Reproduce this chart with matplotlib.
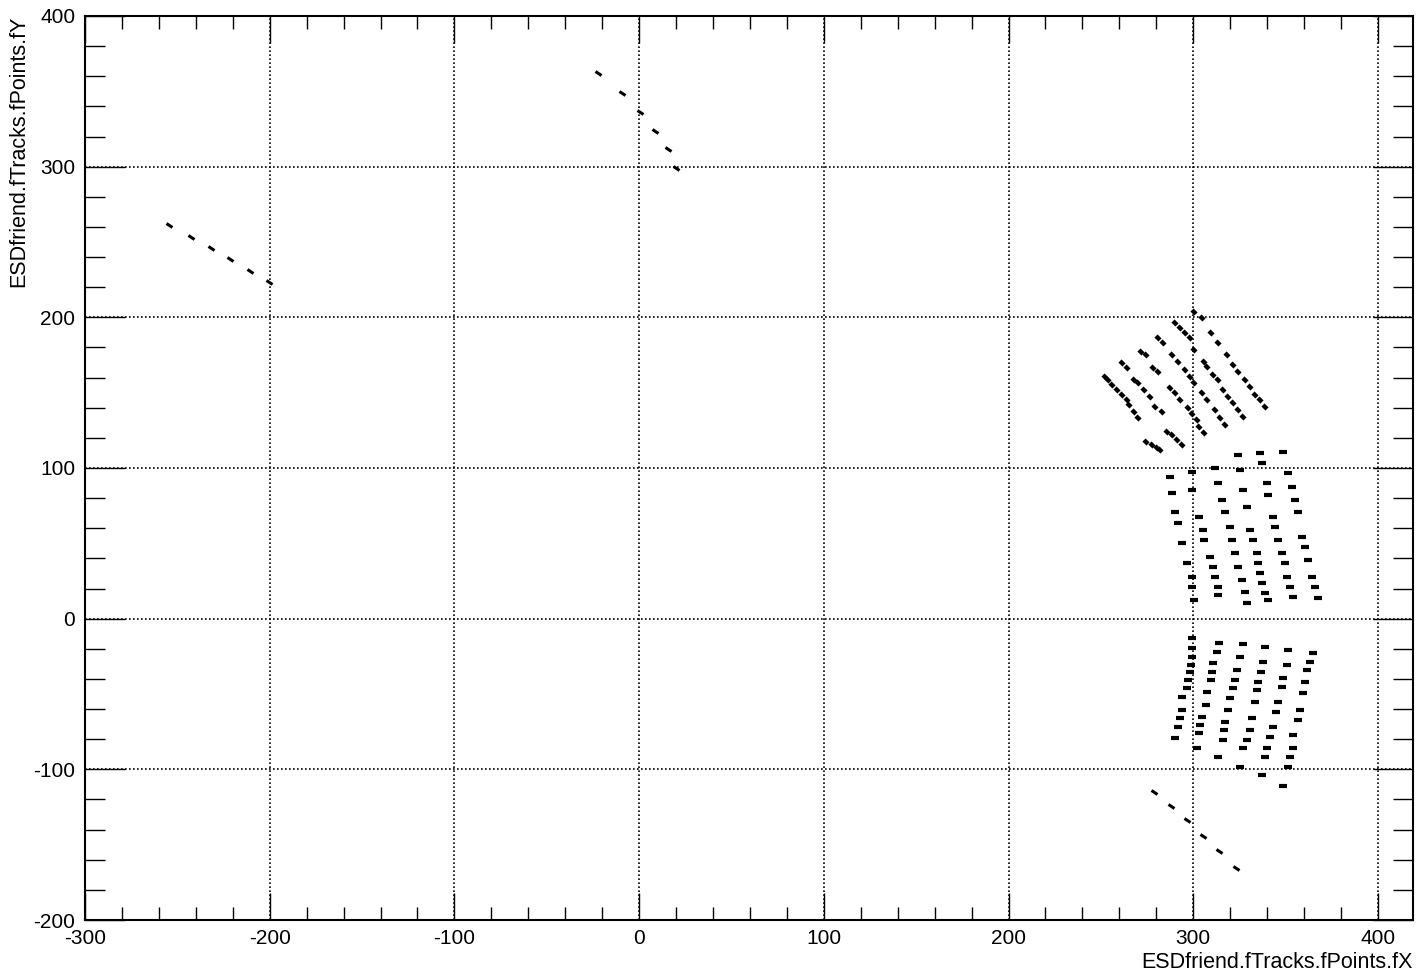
import matplotlib
matplotlib.use('Agg')
import matplotlib.pyplot as plt
from matplotlib.markers import MarkerStyle
from matplotlib.transforms import Affine2D
from matplotlib.ticker import MultipleLocator

plt.rcParams['font.family'] = ['Liberation Sans', 'DejaVu Sans']
plt.rcParams['axes.unicode_minus'] = False

# --- isolated tracks (centre of each short segment) ---
left_x = [-254.3, -242.4, -231.6, -221.3, -210.5, -200.2]
left_y = [261.4, 253.5, 246.2, 238.9, 230.9, 223.6]

top_x = [-22.2, -9.2, 0.5, 8.7, 15.7, 20.0]
top_y = [362.3, 349.0, 336.4, 323.8, 311.9, 299.3]

bottom_x = [278.7, 287.9, 296.5, 305.2, 313.9, 323.1]
bottom_y = [-114.8, -124.1, -133.4, -144.0, -153.9, -165.2]

# --- upper sector, one list per layer ---
upper_x = [
    [300.7, 304.5, 309.9, 313.2, 318.1, 321.3, 324.0, 327.8, 330.5, 333.2, 336.0, 338.7],
    [289.9, 292.6, 295.3, 298.0, 300.7, 306.1, 307.7, 310.5, 313.2, 315.9, 318.6, 321.3, 324.0, 326.7],
    [280.7, 283.4, 288.3, 291.5, 295.3, 298.0, 300.7, 304.5, 307.7, 311.6, 314.3, 317.0],
    [272.0, 274.7, 278.0, 280.7, 287.2, 289.9, 292.6, 297.0, 299.1, 301.8, 303.4, 306.1],
    [261.7, 264.4, 268.2, 269.9, 273.6, 276.4, 279.1, 282.9, 285.6, 288.3, 291.0, 293.7],
    [252.0, 253.6, 255.8, 258.5, 261.2, 263.9, 265.5, 268.2, 269.9, 274.7, 277.5, 280.2, 281.8],
]
upper_y = [
    [203.8, 199.8, 189.8, 183.2, 175.2, 168.6, 163.9, 158.6, 154.0, 148.7, 145.3, 140.7],
    [196.5, 193.1, 189.8, 186.5, 178.5, 170.6, 167.3, 161.9, 158.6, 152.0, 147.3, 143.4, 138.7, 134.1],
    [186.5, 183.2, 175.2, 170.6, 165.3, 160.6, 156.6, 150.0, 145.3, 138.7, 133.4, 128.8],
    [177.2, 175.2, 166.6, 163.9, 153.3, 150.0, 145.3, 140.0, 136.1, 132.1, 127.4, 123.4],
    [169.9, 166.6, 158.6, 156.6, 152.0, 147.3, 140.7, 137.4, 124.1, 122.1, 118.8, 115.5],
    [160.6, 158.6, 155.3, 152.0, 148.7, 145.3, 142.0, 137.4, 133.4, 117.5, 115.5, 113.5, 112.2],
]

# --- middle sector ---
middle_x = [
    [287.2, 288.3, 290.4, 291.5, 294.2, 296.9, 299.1, 299.6, 300.7],
    [299.1, 299.6, 303.4, 305.1, 306.1, 308.9, 310.5, 311.6, 313.2, 313.2],
    [311.6, 313.2, 315.4, 317.0, 319.8, 320.8, 322.4, 324.0, 326.2, 327.8, 328.9],
    [324.0, 325.1, 326.7, 328.9, 330.5, 332.2, 334.3, 334.9, 336.0, 337.0, 338.7, 340.3],
    [336.0, 337.0, 339.8, 340.3, 343.0, 344.1, 345.7, 347.9, 349.5, 350.6, 352.2, 353.9],
    [348.4, 351.1, 353.3, 354.9, 356.5, 358.7, 360.3, 362.0, 364.1, 365.8, 367.4],
]
middle_y = [
    [94.2, 83.6, 71.0, 63.7, 50.4, 37.2, 27.9, 21.2, 12.6],
    [97.6, 85.6, 67.7, 59.1, 52.4, 41.1, 34.5, 27.9, 21.2, 15.9],
    [100.2, 90.3, 79.0, 71.0, 61.1, 52.4, 43.8, 34.5, 25.9, 17.9, 10.6],
    [108.8, 98.9, 85.6, 74.3, 59.1, 52.4, 43.8, 37.2, 30.5, 23.9, 17.3, 12.6],
    [110.2, 103.5, 90.3, 82.3, 67.7, 61.1, 52.4, 43.8, 37.2, 27.9, 21.2, 14.6],
    [110.8, 96.9, 87.6, 79.0, 71.0, 54.4, 47.8, 39.2, 27.9, 21.2, 13.9],
]

# --- lower sector ---
lower_x = [
    [299.6, 299.6, 299.1, 298.6, 298.0, 297.0, 296.4, 294.2, 293.7, 292.6, 291.5, 289.9],
    [313.8, 312.7, 310.5, 310.0, 309.4, 307.7, 306.7, 304.5, 303.9, 302.9, 302.3],
    [326.7, 325.1, 323.5, 322.4, 321.3, 319.7, 318.6, 317.0, 316.5, 315.9, 313.2],
    [338.7, 337.6, 336.5, 334.9, 334.3, 333.2, 331.6, 330.5, 328.9, 326.7, 325.1],
    [351.1, 350.6, 348.4, 347.9, 345.7, 344.6, 343.0, 341.4, 339.8, 338.7, 337.0],
    [364.6, 363.0, 361.4, 360.3, 359.2, 357.6, 356.5, 354.3, 353.8, 352.2, 351.1, 348.4],
]
lower_y = [
    [-12.6, -19.2, -25.2, -30.5, -35.2, -40.5, -45.8, -51.8, -60.4, -65.7, -71.7, -79.0],
    [-15.9, -21.9, -29.2, -35.2, -40.5, -48.5, -57.1, -65.0, -70.4, -75.7, -85.6],
    [-16.6, -25.2, -33.8, -40.5, -45.8, -52.4, -60.4, -68.4, -73.7, -80.3, -91.6],
    [-18.6, -28.5, -35.2, -41.8, -47.1, -55.1, -65.7, -73.7, -80.3, -85.6, -98.2],
    [-20.6, -30.5, -39.2, -45.1, -55.1, -61.7, -71.7, -78.3, -85.6, -91.6, -103.5],
    [-22.6, -28.5, -33.8, -41.8, -49.1, -60.4, -67.0, -77.0, -85.6, -91.6, -98.2, -110.8],
]


def dash(angle):
    return MarkerStyle('_', transform=Affine2D().rotate_deg(angle))


fig = plt.figure(figsize=(14.2, 9.75), dpi=100)
ax = fig.add_axes([85/1420, 1 - 920/975, 1328/1420, 904/975])

kw = dict(linestyle='none', color='black')
ax.plot(left_x, left_y, marker=dash(-30), ms=5, mew=2.2, **kw)
ax.plot(top_x, top_y, marker=dash(-38), ms=5, mew=2.2, **kw)
ax.plot(bottom_x, bottom_y, marker=dash(-40), ms=5, mew=2.2, **kw)
for xs, ys in zip(upper_x, upper_y):
    ax.plot(xs, ys, marker=dash(-40), ms=4, mew=3.2, **kw)
for xs, ys in zip(middle_x, middle_y):
    ax.plot(xs, ys, marker=dash(0), ms=5.5, mew=3, **kw)
for xs, ys in zip(lower_x, lower_y):
    ax.plot(xs, ys, marker=dash(0), ms=5.5, mew=3, **kw)

ax.set_xlim(-300, 419)
ax.set_ylim(-200, 400)

ax.xaxis.set_major_locator(MultipleLocator(100))
ax.xaxis.set_minor_locator(MultipleLocator(20))
ax.yaxis.set_major_locator(MultipleLocator(100))
ax.yaxis.set_minor_locator(MultipleLocator(20))

ax.tick_params(which='both', direction='in', top=True, right=True,
               width=1.0, color='black', labelsize=15)
ax.tick_params(axis='x', which='major', length=19.5, pad=6.5)
ax.tick_params(axis='x', which='minor', length=9.7)
ax.tick_params(axis='y', which='major', length=28.8, pad=7)
ax.tick_params(axis='y', which='minor', length=14.4)

for s in ax.spines.values():
    s.set_linewidth(1.5)

ax.grid(which='major', color='black', linestyle=(0, (1, 1.4)), linewidth=1.2)

ax.set_xlabel('ESDfriend.fTracks.fPoints.fX', fontsize=15.5, loc='right')
ax.xaxis.set_label_coords(1.0, -0.035)
ax.set_ylabel('ESDfriend.fTracks.fPoints.fY', fontsize=15.5, loc='top')
ax.yaxis.set_label_coords(-0.042, 1.0)

fig.savefig('out.png', dpi=100)
